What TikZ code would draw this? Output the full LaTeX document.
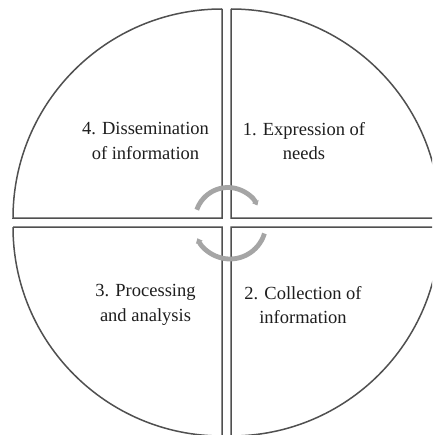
\documentclass[tikz,border=0pt]{standalone}
\usepackage{fontspec}
\setmainfont{Liberation Serif}
\usetikzlibrary{arrows.meta}
\definecolor{quadline}{RGB}{80,80,80}
\definecolor{cyclegray}{RGB}{165,165,165}
\definecolor{txt}{RGB}{30,30,30}
\tikzset{
  quadrant/.style={draw=quadline, line width=1.5pt, line join=miter},
  cyclearc/.style={draw=cyclegray, line width=4.8pt, -{Triangle[width=7pt,length=4.5pt]}},
  label/.style={text=txt, align=center, font=\fontsize{18.5}{24.5}\selectfont, inner sep=0pt}
}
\begin{document}
\begin{tikzpicture}[x=1pt,y=1pt]
\useasboundingbox (0,0) rectangle (432,-435);
\fill[white] (0,0) rectangle (432,-435);
\clip (0,0) rectangle (432,-435);
% quadrants
\draw[quadrant] (222,-9) -- (222,-218) -- (13,-218) arc[start angle=180,end angle=90,radius=209];
\draw[quadrant] (231,-9) -- (231,-218) -- (440,-218) arc[start angle=0,end angle=90,radius=209];
\draw[quadrant] (13,-227) -- (222,-227) -- (222,-436) arc[start angle=270,end angle=180,radius=209];
\draw[quadrant] (231,-436) -- (231,-227) -- (440,-227) arc[start angle=0,end angle=-90,radius=209];
% cycle arrows
\draw[cyclearc] ([shift={(161:33)}]228,-220.5) arc[start angle=161,end angle=27,radius=33];
\draw[cyclearc] ([shift={(-17:36)}]230,-223) arc[start angle=-17,end angle=-155,radius=36];
% labels
\node[label] (dissem) at (145.5,-141) {4. Dissemination\\of information};
\node[label] (express) at (304,-141) {1. Expression of\\needs};
\node[label] (process) at (145.5,-305) {3. Processing\\and analysis};
\node[label] (collect) at (303,-305) {2. Collection of\\information};
\end{tikzpicture}
\end{document}
